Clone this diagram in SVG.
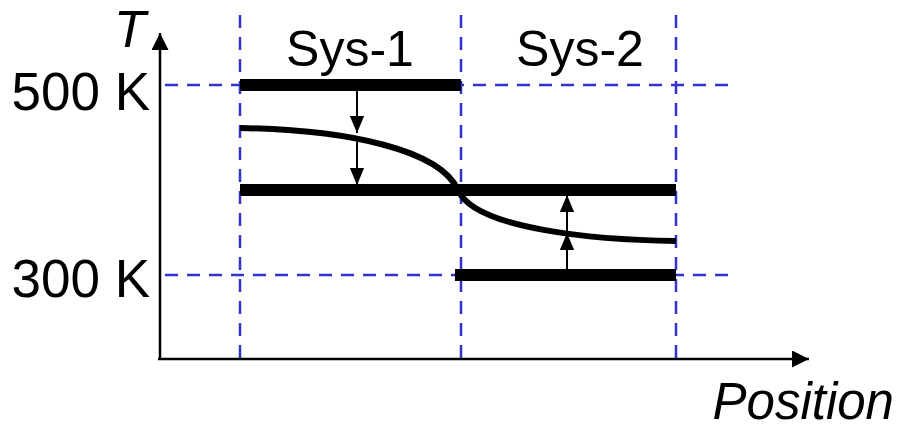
<svg xmlns="http://www.w3.org/2000/svg" width="899" height="430" viewBox="0 0 899 430">
  <style>
    .grid { stroke: #3333cc; stroke-width: 2.5; stroke-dasharray: 13 9; fill: none; }
    .axis { stroke: #000; stroke-width: 2.5; fill: none; }
    .bar { stroke: #000; stroke-width: 12; fill: none; }
    .curve { stroke: #000; stroke-width: 6; fill: none; }
    .flow { stroke: #000; stroke-width: 2; fill: none; }
    text { font-family: "Liberation Sans", Arial, sans-serif; fill: #000; }
    .lbl { font-size: 50px; }
    .val { font-size: 53px; }
    .ax { font-size: 52px; font-style: italic; }
  </style>
  <defs>
    <marker id="axhead" viewBox="0 0 10 10" refX="10" refY="5" markerWidth="17" markerHeight="17" markerUnits="userSpaceOnUse" orient="auto">
      <path d="M0,0 L10,5 L0,10 z" fill="#000"/>
    </marker>
    <marker id="fhead" viewBox="0 0 10 10" refX="10" refY="5" markerWidth="17" markerHeight="17" markerUnits="userSpaceOnUse" orient="auto">
      <path d="M0,0.8 L10,5 L0,9.2 z" fill="#000"/>
    </marker>
  </defs>

  <!-- guide lines -->
  <g id="guides">
    <line class="grid" x1="240" y1="15" x2="240" y2="360"/>
    <line class="grid" x1="461" y1="15" x2="461" y2="360"/>
    <line class="grid" x1="676" y1="15" x2="676" y2="360"/>
    <line class="grid" x1="165" y1="85" x2="730" y2="85"/>
    <line class="grid" x1="165" y1="275" x2="730" y2="275"/>
  </g>

  <!-- axes -->
  <g id="axes">
    <line class="axis" x1="160" y1="360" x2="160" y2="33" marker-end="url(#axhead)"/>
    <line class="axis" x1="158" y1="359" x2="809" y2="359" marker-end="url(#axhead)"/>
    <text class="ax" x="114" y="47">T</text>
    <text class="ax" x="894" y="419" text-anchor="end" style="font-size:51px">Position</text>
    <text class="val" x="150" y="110" text-anchor="end">500 K</text>
    <text class="val" x="150" y="297" text-anchor="end">300 K</text>
  </g>

  <g id="sys1">
    <text class="lbl" x="350" y="66" text-anchor="middle">Sys-1</text>
    <line class="bar" x1="240" y1="85" x2="461" y2="85"/>
  </g>
  <g id="sys2">
    <text class="lbl" x="580" y="66" text-anchor="middle">Sys-2</text>
    <line class="bar" x1="455" y1="275" x2="676" y2="275"/>
  </g>
  <g id="equilibrium">
    <line class="bar" x1="240" y1="190" x2="676" y2="190"/>
  </g>
  <g id="profile">
    <path class="curve" d="M240,128 C350,130 440,150 458,190 C475,230 600,240 676,241"/>
  </g>

  <!-- heat flow arrows -->
  <g id="connectors">
    <line class="flow" x1="357" y1="91" x2="357" y2="133" marker-end="url(#fhead)"/>
    <line class="flow" x1="357" y1="142" x2="357" y2="185" marker-end="url(#fhead)"/>
    <line class="flow" x1="567" y1="270" x2="567" y2="233" marker-end="url(#fhead)"/>
    <line class="flow" x1="567" y1="233" x2="567" y2="195" marker-end="url(#fhead)"/>
  </g>
</svg>
